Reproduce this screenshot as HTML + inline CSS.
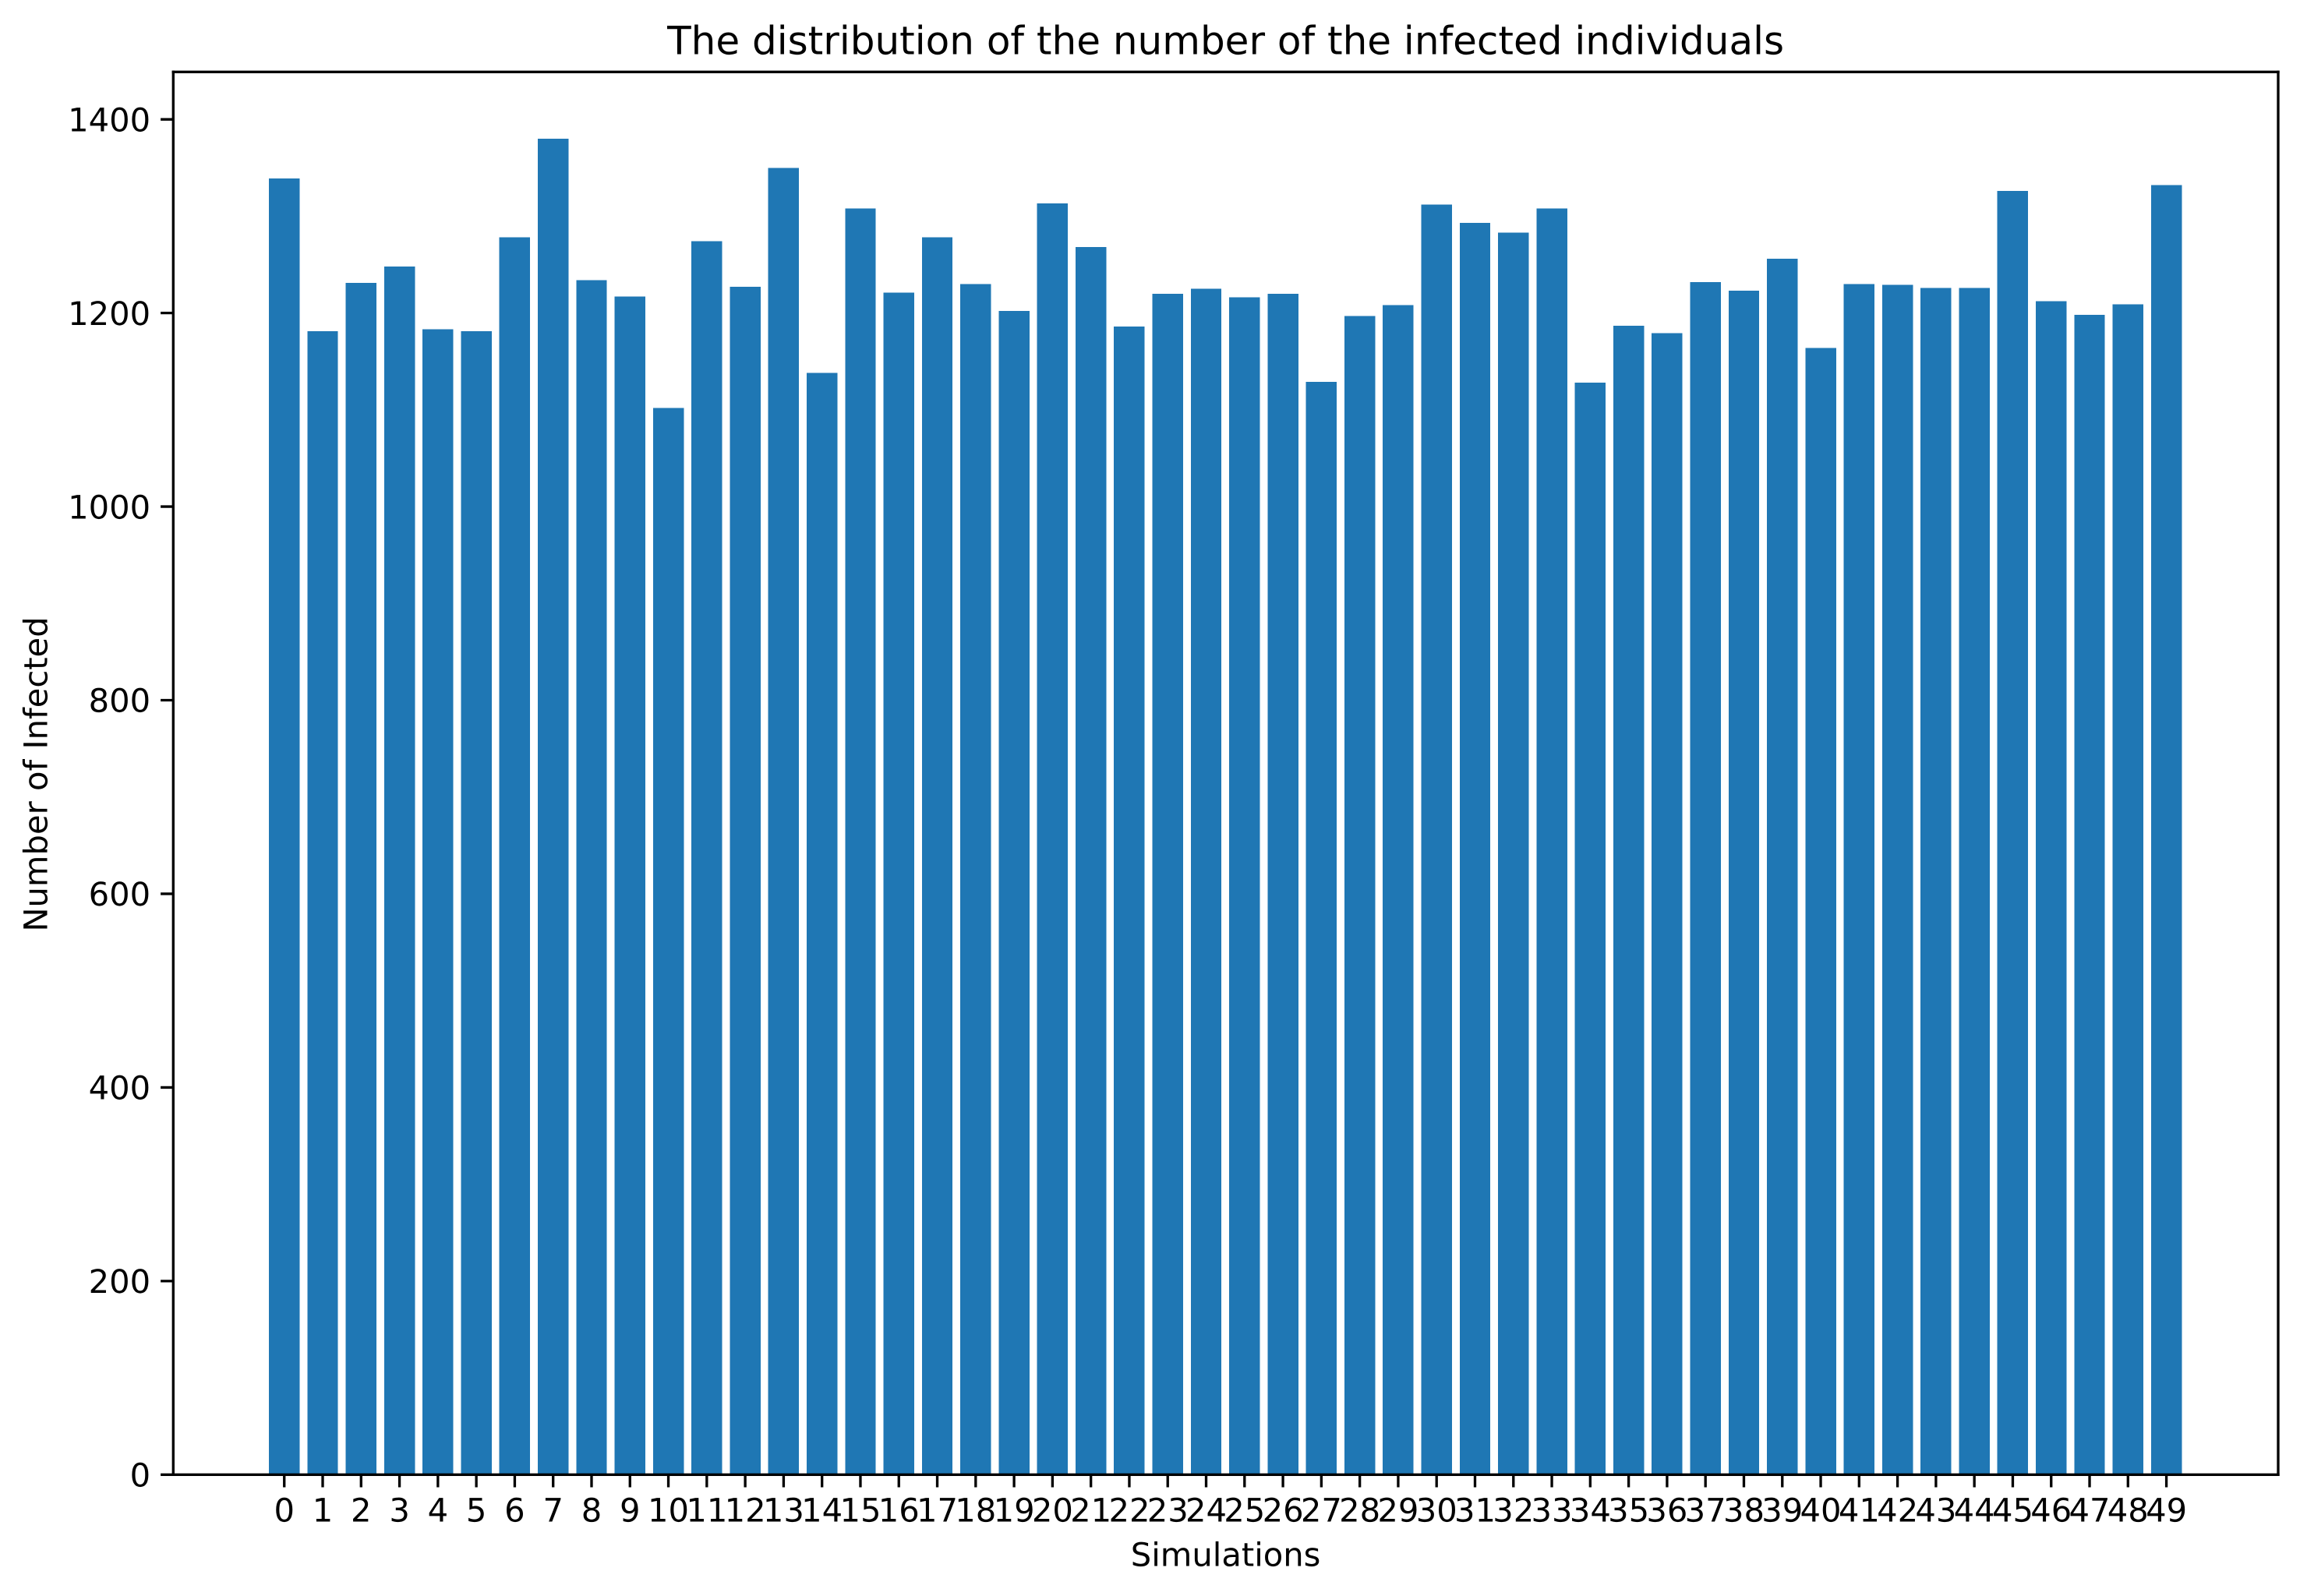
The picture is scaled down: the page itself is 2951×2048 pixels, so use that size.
<!DOCTYPE html>
<html lang="en">
<head>
<meta charset="utf-8">
<title>The distribution of the number of the infected individuals</title>
<style>
  html, body { margin: 0; padding: 0; background: #ffffff; }
  body { width: 2951px; height: 2048px; overflow: hidden; }
  svg { display: block; }
  text { font-family: "DejaVu Sans", "Liberation Sans", sans-serif; fill: #000000; text-rendering: geometricPrecision; }
</style>
</head>
<body>
<svg id="chart" xmlns="http://www.w3.org/2000/svg" width="2951" height="2048" viewBox="0 0 2951 2048">
  <rect x="0" y="0" width="2951" height="2048" fill="#ffffff"/>
  <g id="bars"></g>
  <g id="x-ticks"></g>
  <g id="y-ticks"></g>
  <g stroke="#000000" stroke-width="3.33" stroke-linecap="square" fill="none">
    <line x1="222.3" y1="92.3" x2="222.3" y2="1892.3"/>
    <line x1="2923" y1="92.3" x2="2923" y2="1892.3"/>
    <line x1="222.3" y1="92.3" x2="2923" y2="92.3"/>
    <line x1="222.3" y1="1892.3" x2="2923" y2="1892.3"/>
  </g>
  <text x="1572.6" y="69.5" font-size="50" text-anchor="middle">The distribution of the number of the infected individuals</text>
  <text x="1572.6" y="2009.5" font-size="41.67" text-anchor="middle">Simulations</text>
  <text transform="translate(60.5 993.5) rotate(-90)" x="0" y="0" font-size="41.67" text-anchor="middle">Number of Infected</text>
</svg>
<script>
const categories = ['0','1','2','3','4','5','6','7','8','9','10','11','12','13','14','15','16','17','18','19','20','21','22','23','24','25','26','27','28','29','30','31','32','33','34','35','36','37','38','39','40','41','42','43','44','45','46','47','48','49'];
const infected = [1339,1181,1231,1248,1183,1181,1278,1380,1234,1217,1102,1274,1227,1350,1138,1308,1221,1278,1230,1202,1313,1268,1186,1220,1225,1216,1220,1129,1197,1208,1312,1293,1283,1308,1128,1187,1179,1232,1223,1256,1164,1230,1229,1226,1226,1326,1212,1198,1209,1332];
const yTickValues = [0,200,400,600,800,1000,1200,1400];
const yTickLabels = ['0','200','400','600','800','1000','1200','1400'];

const SVG_NS = 'http://www.w3.org/2000/svg';
const plotLeft = 222.3, plotRight = 2923, plotTop = 92.3, plotBottom = 1892.3;
const xDomainMin = -2.89, xDomainMax = 51.91, yDomainMax = 1449;
const barFraction = 0.8;
const tickLength = 14.6, tickPad = 14.6, tickFont = 41.67;

function xScale(i) {
  return plotLeft + (i - xDomainMin) / (xDomainMax - xDomainMin) * (plotRight - plotLeft);
}
function yScale(v) {
  return plotBottom - v / yDomainMax * (plotBottom - plotTop);
}

const barsGroup = document.getElementById('bars');
const xTicksGroup = document.getElementById('x-ticks');
const yTicksGroup = document.getElementById('y-ticks');
const barWidth = (xScale(1) - xScale(0)) * barFraction;

categories.forEach(function (label, i) {
  const x = xScale(i);
  const top = yScale(infected[i]);

  const bar = document.createElementNS(SVG_NS, 'rect');
  
  
  bar.setAttribute('x', x - barWidth / 2);
  bar.setAttribute('y', top);
  bar.setAttribute('width', barWidth);
  bar.setAttribute('height', yScale(0) - top);
  bar.setAttribute('fill', '#1f77b4');
  bar.setAttribute('shape-rendering', 'crispEdges');
  barsGroup.appendChild(bar);

  const tick = document.createElementNS(SVG_NS, 'line');
  
  
  tick.setAttribute('x1', x);
  tick.setAttribute('x2', x);
  tick.setAttribute('y1', plotBottom);
  tick.setAttribute('y2', plotBottom + tickLength + 1.6);
  tick.setAttribute('stroke', '#000000');
  tick.setAttribute('stroke-width', '3.33');
  xTicksGroup.appendChild(tick);

  const text = document.createElementNS(SVG_NS, 'text');
  
  
  text.setAttribute('x', x);
  text.setAttribute('y', 1952.5);
  text.setAttribute('font-size', tickFont);
  text.setAttribute('text-anchor', 'middle');
  text.textContent = label;
  xTicksGroup.appendChild(text);
});

yTickValues.forEach(function (value, i) {
  const y = yScale(value);

  const tick = document.createElementNS(SVG_NS, 'line');
  
  
  tick.setAttribute('x1', plotLeft);
  tick.setAttribute('x2', plotLeft - tickLength - 1.6);
  tick.setAttribute('y1', y);
  tick.setAttribute('y2', y);
  tick.setAttribute('stroke', '#000000');
  tick.setAttribute('stroke-width', '3.33');
  yTicksGroup.appendChild(tick);

  const text = document.createElementNS(SVG_NS, 'text');
  
  
  text.setAttribute('x', plotLeft - tickLength - tickPad);
  text.setAttribute('y', y + 15.2);
  text.setAttribute('font-size', tickFont);
  text.setAttribute('text-anchor', 'end');
  text.textContent = yTickLabels[i];
  yTicksGroup.appendChild(text);
});
</script>
</body>
</html>
